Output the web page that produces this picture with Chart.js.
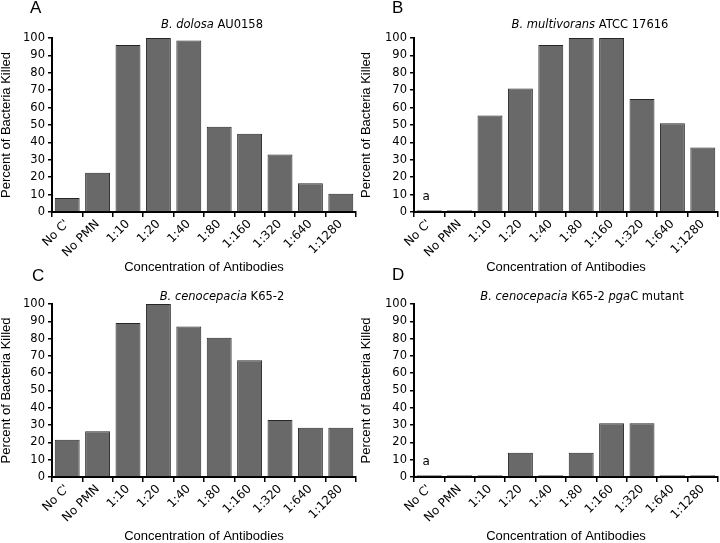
<!DOCTYPE html>
<html>
<head>
<meta charset="utf-8">
<script src="https://cdn.jsdelivr.net/npm/chart.js@4.4.1/dist/chart.umd.min.js"></script>
<style>
  body { margin: 0; background: #fff; width: 720px; height: 543px; position: relative; overflow: hidden; }
  canvas { position: absolute; }
</style>
</head>
<body>
<canvas id="panelA" width="360" height="277" style="left:0;top:0"></canvas>
<canvas id="panelB" width="360" height="277" style="left:360px;top:0"></canvas>
<canvas id="panelC" width="360" height="277" style="left:0;top:266px"></canvas>
<canvas id="panelD" width="360" height="277" style="left:360px;top:266px"></canvas>
<script>
const categories = ["No C'", "No PMN", "1:10", "1:20", "1:40", "1:80", "1:160", "1:320", "1:640", "1:1280"];

// percent of bacteria killed
const dolosaKilled = [8, 22.5, 96, 100, 98.5, 49, 45, 33, 16.5, 10.5];
const multivoransKilled = [1, 1, 55.5, 71, 96, 100, 100, 65, 51, 37];
const cenocepaciaKilled = [21.5, 26.5, 89, 100, 87, 80.5, 67.5, 33, 28.5, 28.5];
const pgaMutantKilled = [1, 1, 1, 14, 1, 14, 31, 31, 1, 1];

const tickFont = { family: 'DejaVu Sans', size: 11.5 };
const axisFont = { family: 'Liberation Sans', size: 13, lineHeight: 1 };

// letter, italic/plain title pieces and the little "a" over a bar
const panelDecor = {
  id: 'panelDecor',
  afterDraw(chart, args, opts) {
    const ctx = chart.ctx;
    ctx.save();
    ctx.fillStyle = '#000';
    ctx.textBaseline = 'middle';
    ctx.textAlign = 'left';
    ctx.font = '17px "Liberation Sans", Arial, sans-serif';
    ctx.fillText(opts.letter, opts.letterX, opts.letterY);

    const fontFor = p => (p.italic ? 'italic ' : '') + '11.5px "DejaVu Sans", sans-serif';
    let total = 0;
    opts.title.forEach(p => { ctx.font = fontFor(p); total += ctx.measureText(p.text).width; });
    let x = opts.titleX - total / 2;
    opts.title.forEach(p => {
      ctx.font = fontFor(p);
      ctx.fillText(p.text, x, opts.titleY);
      x += ctx.measureText(p.text).width;
    });

    if (opts.mark) {
      const bar = chart.getDatasetMeta(0).data[opts.mark.index];
      ctx.font = '12px "DejaVu Sans", sans-serif';
      ctx.textAlign = 'center';
      ctx.fillText(opts.mark.text, bar.x - 3, bar.y - 13);
    }
    ctx.restore();
  }
};

function makePanel(id, values, box, decor) {
  new Chart(document.getElementById(id), {
    type: 'bar',
    data: {
      labels: categories,
      datasets: [{
        data: values,
        backgroundColor: '#696969',
        borderColor: '#262626',
        borderWidth: 1,
        barPercentage: 0.82,
        categoryPercentage: 1
      }]
    },
    options: {
      responsive: false,
      animation: false,
      layout: { padding: { top: box.top, right: box.right, left: 0, bottom: 0 } },
      plugins: {
        legend: { display: false },
        tooltip: { enabled: false },
        panelDecor: decor
      },
      scales: {
        x: {
          grid: { drawOnChartArea: false, drawTicks: true, tickLength: 5, color: '#000', lineWidth: 1.5 },
          border: { display: true, color: '#000', width: 2 },
          ticks: { color: '#000', font: { family: 'DejaVu Sans', size: 12 }, minRotation: 45, maxRotation: 45, padding: 0 },
          title: { display: true, text: 'Concentration of Antibodies', color: '#000', font: axisFont, padding: { top: 0, bottom: box.xTitlePad } },
          afterFit(s) { s.height = box.xHeight; }
        },
        y: {
          min: 0,
          max: 100,
          ticks: { stepSize: 10, color: '#000', font: tickFont, padding: 3 },
          grid: { drawOnChartArea: false, tickLength: 4, color: '#000', lineWidth: 1.5 },
          border: { display: true, color: '#000', width: 2 },
          title: { display: true, text: 'Percent of Bacteria Killed', color: '#000', font: axisFont, padding: 0 },
          afterFit(s) { s.width = box.yWidth; }
        }
      }
    },
    plugins: [panelDecor]
  });
}

makePanel('panelA', dolosaKilled,
  { top: 38, right: 4, yWidth: 52, xHeight: 65, xTitlePad: 3.5 },
  { letter: 'A', letterX: 30, letterY: 8, titleX: 212, titleY: 25,
    title: [{ text: 'B. dolosa', italic: true }, { text: ' AU0158' }] });

makePanel('panelB', multivoransKilled,
  { top: 38, right: 2, yWidth: 54, xHeight: 65, xTitlePad: 3.5 },
  { letter: 'B', letterX: 32, letterY: 8, titleX: 230, titleY: 25,
    title: [{ text: 'B. multivorans', italic: true }, { text: ' ATCC 17616' }],
    mark: { index: 0, text: 'a' } });

makePanel('panelC', cenocepaciaKilled,
  { top: 38, right: 4, yWidth: 52, xHeight: 66, xTitlePad: 0 },
  { letter: 'C', letterX: 32, letterY: 10, titleX: 222, titleY: 31,
    title: [{ text: 'B. cenocepacia', italic: true }, { text: ' K65-2' }] });

makePanel('panelD', pgaMutantKilled,
  { top: 38, right: 2, yWidth: 54, xHeight: 66, xTitlePad: 0 },
  { letter: 'D', letterX: 32, letterY: 9, titleX: 222, titleY: 31,
    title: [{ text: 'B. cenocepacia', italic: true }, { text: ' K65-2 ' }, { text: 'pga', italic: true }, { text: 'C mutant' }],
    mark: { index: 0, text: 'a' } });
</script>
</body>
</html>
